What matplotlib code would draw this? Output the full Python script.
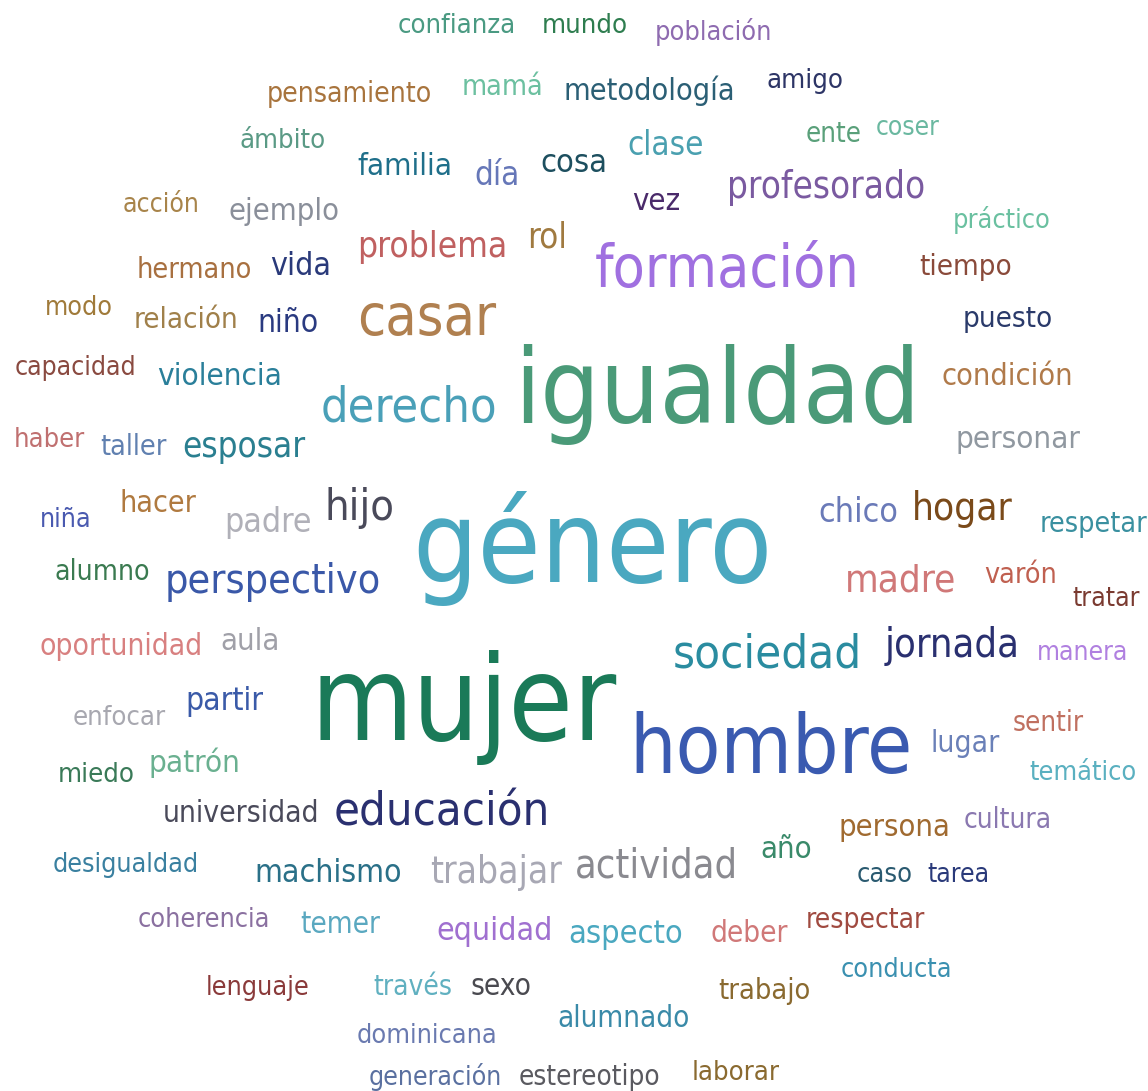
import matplotlib.pyplot as plt

# word cloud terms
words = [
    "confianza", "mundo", "población", "pensamiento", "mamá", "metodología", "amigo",
    "ámbito", "ente", "coser", "familia", "día", "cosa", "clase", "vez", "profesorado",
    "acción", "ejemplo", "problema", "rol", "práctico", "formación", "hermano", "vida",
    "tiempo", "modo", "relación", "niño", "casar", "puesto", "capacidad", "violencia",
    "derecho", "igualdad", "condición", "haber", "taller", "esposar", "personar", "niña",
    "hacer", "padre", "hijo", "género", "chico", "hogar", "respetar", "alumno",
    "perspectivo", "madre", "varón", "tratar", "oportunidad", "aula", "sociedad",
    "jornada", "manera", "mujer", "enfocar", "partir", "hombre", "sentir", "lugar",
    "miedo", "patrón", "temático", "universidad", "educación", "persona", "cultura",
    "año", "desigualdad", "machismo", "trabajar", "actividad", "caso", "tarea",
    "coherencia", "temer", "equidad", "aspecto", "deber", "respectar", "lenguaje",
    "través", "sexo", "trabajo", "conducta", "alumnado", "dominicana", "generación",
    "estereotipo", "laborar",
]

# layout (pixel space): left edge, right edge, baseline
x_left = [
    398, 542, 655, 266, 461, 563, 766,
    240, 806, 876, 357, 474, 540, 627, 632, 727,
    123, 229, 357, 527, 953, 595, 137, 270,
    920, 45, 133, 257, 357, 963, 14, 157,
    320, 512, 942, 14, 100, 182, 955, 40,
    119, 224, 325, 412, 818, 912, 1040, 54,
    165, 845, 984, 1072, 39, 220, 672,
    885, 1037, 310, 73, 185, 630, 1013, 930,
    58, 148, 1030, 162, 333, 838, 963,
    760, 52, 255, 430, 574, 857, 927,
    137, 300, 436, 568, 710, 805, 205,
    373, 471, 718, 840, 557, 357, 368,
    518, 692,
]
x_right = [
    516, 628, 772, 432, 543, 735, 843,
    326, 862, 940, 453, 520, 607, 704, 680, 925,
    200, 340, 507, 567, 1051, 860, 252, 331,
    1012, 113, 238, 318, 497, 1053, 137, 283,
    497, 922, 1073, 85, 167, 305, 1080, 92,
    196, 312, 395, 773, 898, 1013, 1148, 150,
    381, 957, 1057, 1140, 203, 280, 862,
    1020, 1129, 617, 166, 263, 913, 1084, 1000,
    135, 240, 1137, 320, 550, 950, 1052,
    812, 200, 402, 562, 738, 913, 990,
    270, 380, 553, 683, 788, 925, 310,
    452, 532, 810, 952, 690, 498, 502,
    660, 780,
]
baseline = [
    33, 33, 40, 102, 95, 100, 88,
    148, 142, 135, 175, 185, 172, 155, 210, 198,
    212, 220, 257, 248, 228, 287, 278, 275,
    275, 315, 328, 332, 335, 327, 375, 385,
    422, 423, 385, 447, 455, 457, 448, 527,
    512, 532, 520, 582, 522, 520, 532, 580,
    593, 592, 583, 606, 655, 650, 668,
    657, 660, 740, 725, 710, 773, 731, 752,
    782, 772, 780, 822, 825, 836, 828,
    858, 872, 882, 883, 877, 882, 882,
    927, 933, 940, 943, 942, 928, 995,
    995, 995, 999, 977, 1027, 1043, 1085,
    1085, 1080,
]
colors = [
    "#4a9a82", "#2e7d4f", "#8e6bb0", "#a8743d", "#6cc0a0", "#2b5f75", "#2d3566",
    "#5a9a85", "#5aa07a", "#6ab8a0", "#1f6f8a", "#6677b8", "#1d4f5f", "#4aa0b0", "#4a2a6a", "#7a5aa0",
    "#a8844a", "#8a8f9a", "#c06060", "#a07a40", "#6ac0a0", "#a070e0", "#a87040", "#2a3a7a",
    "#8a4a3a", "#a07a3a", "#a0804a", "#2a3a80", "#b08050", "#2a3a6a", "#8a4a40", "#2a7f9a",
    "#4aa0b8", "#4a9a78", "#b07a4a", "#c07070", "#6080b0", "#2a7f90", "#9098a0", "#4a5ab0",
    "#b07a40", "#b0b0b8", "#4a4a5a", "#4aa8c0", "#6a7ab8", "#7a4a1a", "#3a90a0", "#3a7a50",
    "#3a58a8", "#d07878", "#c06050", "#7a3a30", "#d88080", "#a0a0a8", "#2a8ca0",
    "#2a3070", "#b080e0", "#1a7a58", "#a8a8b0", "#3a5aa8", "#3a5ab0", "#c07060", "#6a80b8",
    "#3a7a58", "#6ab090", "#5ab0c0", "#4a4a5a", "#2a3070", "#a06a30", "#8a78b0",
    "#3a8a6a", "#3a80a0", "#2a7088", "#a8a8b4", "#8a8a90", "#2a5a70", "#2a3a7a",
    "#8a70a0", "#5aa8c0", "#a070d0", "#4aa8c0", "#d07878", "#a04a40", "#8a3a3a",
    "#60b0c0", "#4a4a50", "#8a6a30", "#3a90b0", "#3a8aa8", "#6a7ab0", "#5a70a0",
    "#5a5a60", "#8a6a30",
]

W, H = 1148, 1091
plt.rcParams["font.family"] = ["Liberation Sans Narrow", "DejaVu Sans"]
plt.rcParams["font.stretch"] = "condensed"

fig = plt.figure(figsize=(W / 100, H / 100), dpi=100)
ax = fig.add_axes([0, 0, 1, 1])
ax.set_xlim(0, W)
ax.set_ylim(H, 0)
ax.axis("off")

renderer = fig.canvas.get_renderer()
for word, left, right, y, color in zip(words, x_left, x_right, baseline, colors):
    t = ax.text((left + right) / 2, y, word, color=color, fontsize=10,
                ha="center", va="baseline")
    width = t.get_window_extent(renderer).width
    t.set_fontsize(10 * (right - left) / width)

fig.savefig("out.png", dpi=100, facecolor="white")
